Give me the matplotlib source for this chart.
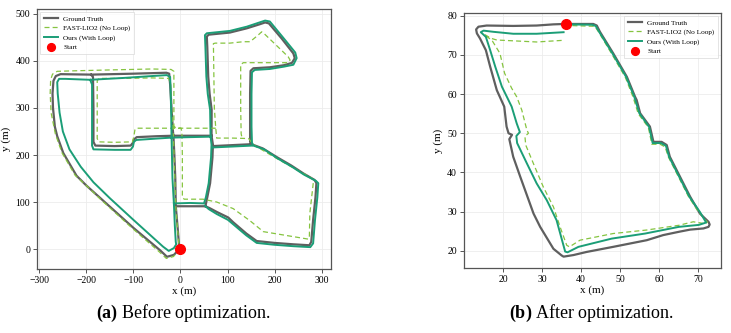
import numpy as np
import matplotlib
matplotlib.use("Agg")
import matplotlib.pyplot as plt

plt.rcParams['font.family'] = ['Liberation Serif', 'DejaVu Serif']
plt.rcParams['mathtext.fontset'] = 'custom'
plt.rcParams['mathtext.rm'] = 'Liberation Serif'
plt.rcParams['mathtext.bf'] = 'Liberation Serif:bold'

nan = np.nan

# ---------------- Panel (a): before optimization ----------------
gt_a_x = [0, -4.7, -14, -28.7, -43, -100, -170, -200, -221, -249, -262, -267, -271, -272, -270, -265, -255, -190, -100, -30, -24, -22, -19, -16, -15, -13, -11, -10, -6, -2.5, 0,
          nan,
          -190, -186, -185, -185, -181, -140, -106, -101, -99, -93, -50, -15, 20, 66, 66.3, 62, 59, 57, 56, 60, 105, 141, 168, 180, 188, 215, 240, 243, 237, 220, 190, 155, 149, 148, 148, 148, 151,
          175, 204, 235, 261, 285, 289, 287, 282, 278, 274, 240, 200, 162, 140, 112, 101.6, 77, 62, 53, 20, -10,
          nan,
          151, 110, 69,
          nan,
          66, 69, 68, 63, 57, 53]
gt_a_y = [0, -2.5, -12.5, -16.5, -3, 45, 108, 135, 156, 204, 240, 260, 300, 331, 358, 368, 372, 371, 373, 375, 373, 350, 300, 250, 241, 200, 150, 91, 45, 1.5, 0,
          nan,
          371, 366, 300, 228, 220, 219, 220, 226, 233, 238, 240, 241, 241, 241, 296, 330, 367, 430, 452, 456, 460.5, 469.5, 478, 482, 480, 448, 416, 406, 396, 391, 386.6, 384.5, 379, 330, 260, 228, 223,
          214, 196, 178, 161, 147, 140, 110, 62, 15, 8, 10, 13, 17, 33, 57, 67, 79, 87, 91, 91, 91,
          nan,
          223, 221, 219,
          nan,
          241, 222, 195, 140, 110, 91]

lio_a_x = [0, -5, -15, -30, -45, -100, -168, -200, -224, -252, -266, -275, -277, -276, -272, -262, -230, -150, -60, -20, -14, -14, -14, -10, 1, 3, 4, 4, 4, 8, 48,
           77, 112, 148, 176, 272, 274, 275, 280, 283, 277, 250, 211, 180, 155, 145, 110, 77, 75, 72, 70, 74, 105, 133.5, 148, 165, 172.6, 176, 200, 229, 233, 228, 133.5, 128, 128, 129, 131,
           nan,
           75, 30, -1, -50, -94, -97, -99, -102, -140, -174, -177, -177, -177, -173, -120, -60, -25, -21, -19, -15, -10, -3, 0]
lio_a_y = [0, -5, -16, -20, -6, 42, 104, 135, 157, 205, 245, 290, 331, 360, 372, 378, 379, 381, 383, 382, 378, 300, 262, 257, 257, 250, 200, 150, 110, 106, 106,
           100, 86, 60, 37, 21, 25, 76, 120, 147, 152, 167, 189, 207, 222, 235, 236, 236, 257, 300, 437, 438, 438, 441, 441, 455, 462, 460, 437, 409, 402, 396.4, 396.4, 392, 300, 245, 236,
           nan,
           257, 257, 257, 257, 257, 253, 240, 228, 227, 228, 235, 300, 358, 363, 363, 364, 363, 350, 300, 241, 91, 3, 0]

ours_a_x = [-14, -12, -10, -9, -14, -25, -37, -100, -150, -185, -212, -236, -250, -257, -261, -262, -258, -245, -192, -120, -60, -29, -22, -21, -20, -19, -17, -14,
            nan,
            -192, -188, -188, -188, -185, -140, -106, -101, -99, -94, -50, -19, 20, 64, 63, 58, 55, 53, 52, 56, 105, 141, 168, 180, 190, 218, 244, 247, 240, 220, 190, 158, 152, 151, 151, 152,
            155, 178, 206, 237, 263, 288, 293, 291, 286, 282, 276, 240, 200, 162, 140, 126.5, 101, 77, 60, 52,
            nan,
            152, 110, 67,
            nan,
            64, 66, 65, 60, 54, 50, 20, -12]
ours_a_y = [97, 50, 15, 10, 2, -4, 5, 62, 108, 142, 175, 212, 250, 290, 331, 355, 362, 362, 360, 364, 368, 370, 366, 340, 300, 241, 150, 97,
            nan,
            360, 350, 300, 220, 212, 211, 211, 218, 228, 232, 235, 237, 238, 239, 296, 330, 367, 430, 455, 459, 464, 473, 482, 486, 484, 450, 418, 406, 392, 388, 383, 381, 376, 330, 260, 226,
            220, 212, 193, 175, 158, 145, 140, 110, 62, 12, 4, 6, 9, 13, 29, 40.4, 62, 74.5, 85, 92,
            nan,
            220, 218, 216,
            nan,
            239, 222, 195, 140, 110, 97, 98, 97]

start_a = (0, 0)

# ---------------- Panel (b): after optimization ----------------
gt_b_x = [35.7, 43.1, 44, 44.8, 48.2, 51.7, 53.8, 54.2, 55.1, 57.6, 58.5, 60.6, 61.9, 62.7, 65.3, 67.9, 70.4, 72.6, 72.9, 72.6, 71.3, 67.9, 65.3, 61, 56.8, 48.2, 41.4, 38, 35.5, 35,
          32.9, 29.5, 27.8, 24.4, 22.6, 21.6, 22.3, 21.4, 20.9, 20.3, 18.4, 16.7, 15.6, 14.1, 13.3, 13.1, 13.7, 15.8, 22.6, 28.6, 32.9, 35.7]
gt_b_y = [77.9, 77.9, 77.5, 75.9, 70.4, 64.4, 59.3, 58.5, 55.1, 51.7, 47.8, 47.8, 47, 44, 38.9, 33.8, 29.5, 27.4, 26.7, 26.1, 25.7, 25.4, 24.9, 24, 22.7, 21, 19.7, 18.9, 18.5, 18.8,
          20.5, 26.1, 29.5, 38.9, 44, 48.5, 49.6, 50, 51.7, 56.8, 61, 67, 71.2, 74.2, 75.5, 76.5, 77.2, 77.5, 77.4, 77.5, 77.8, 77.9]

lio_b_x = [35, 28.6, 22.6, 18.4, 16.7, 15.2, 17.3, 19.2, 20.4, 22.2, 23.5, 24.8, 26.1, 26.5, 25.6, 25.8, 27.8, 30.3, 32.9, 34.6, 36.3, 37, 39.7, 48.2, 56.8, 65, 68.7, 71.8, 72.3,
           70, 67.5, 64.9, 62.3, 61.5, 60.2, 58.1, 57.2, 54.6, 53.3, 51.3, 47.8, 44.5, 43.5, 37]
lio_b_y = [73.7, 73.3, 73.6, 73.8, 74.3, 75.3, 73.5, 70.4, 65.3, 61.5, 59.3, 55.9, 50.8, 50, 49.2, 47, 42.2, 36.3, 31.2, 26.1, 21.4, 21, 22.7, 24.4, 25.3, 26.5, 27.4, 26.9, 27.3,
           30, 33.8, 38.9, 44, 46.5, 47.2, 47.2, 51.5, 55, 59.2, 64.3, 70.3, 75.8, 77.3, 77.5]

ours_b_x = [35.5, 28.6, 22.6, 17.5, 15, 14.3, 15.6, 16.7, 18, 19.7, 22.2, 23.5, 24.3, 23.4, 23.6, 26.1, 28.6, 31.2, 33.7, 35.9, 36.5, 39.3, 47.8, 56.4, 65, 70.1, 72,
            70.4, 67.7, 65.1, 62.5, 61.7, 60.4, 58.3, 57.4, 54.9, 53.6, 51.5, 48, 44.6, 43.7, 42.8, 37]
ours_b_y = [75.8, 75.4, 75.4, 75.9, 76.2, 75.8, 74.6, 71.2, 67, 61.9, 56.8, 52.5, 50.3, 49.3, 47.5, 42.3, 37.2, 32.9, 27.8, 19.8, 19.6, 21, 23.1, 24.4, 26.1, 26.6, 27.2,
            29.9, 33.8, 38.9, 44, 46.8, 47.5, 47.5, 51.6, 55.1, 59.3, 64.4, 70.4, 75.9, 77.4, 77.7, 77.8]

start_b = (36, 78)

labels = ["Ground Truth", "FAST-LIO2 (No Loop)", "Ours (With Loop)", "Start"]
captions = [r"$\mathbf{(a)}$ Before optimization.", r"$\mathbf{(b)}$ After optimization."]

GT_C = '#5f5f5f'
LIO_C = '#86c440'
OURS_C = '#1b9e77'

fig = plt.figure(figsize=(7.31, 3.33), dpi=100)
ax1 = fig.add_axes([37/731, (333-269)/333, 294/731, 260/333])
ax2 = fig.add_axes([464/731, (333-268)/333, 257/731, 255/333])


def draw(ax, gx, gy, lx, ly, ox, oy, st, loc):
    ax.plot(gx, gy, color=GT_C, lw=1.6, label=labels[0], zorder=2, solid_joinstyle='round')
    ax.plot(lx, ly, color=LIO_C, lw=0.9, ls=(0, (4, 2.5)), label=labels[1], zorder=3)
    ax.plot(ox, oy, color=OURS_C, lw=1.4, label=labels[2], zorder=4, solid_joinstyle='round')
    ax.plot([st[0]], [st[1]], 'o', color='red', ms=7, ls='none', label=labels[3], zorder=6)
    ax.grid(True, color='#ececec', lw=0.6)
    ax.set_axisbelow(True)
    for s in ax.spines.values():
        s.set_color('#555555')
        s.set_linewidth(0.9)
    ax.tick_params(labelsize=7, length=3, width=0.7, color='#555555', pad=2)
    ax.set_xlabel("x (m)", fontsize=8, labelpad=1)
    ax.set_ylabel("y (m)", fontsize=8, labelpad=3)
    leg = ax.legend(loc=loc, fontsize=5.2, frameon=True, handlelength=2.0,
                    borderpad=0.5, labelspacing=0.45, handletextpad=0.7, fancybox=False,
                    borderaxespad=0.4, markerscale=0.8)
    leg.get_frame().set_edgecolor('#d8d8d8')
    leg.get_frame().set_linewidth(0.6)


draw(ax1, gt_a_x, gt_a_y, lio_a_x, lio_a_y, ours_a_x, ours_a_y, start_a, 'upper left')
ax1.set_xlim(-305, 320)
ax1.set_ylim(-42.5, 510.6)
ax1.set_xticks([-300, -200, -100, 0, 100, 200, 300])
ax1.set_yticks([0, 100, 200, 300, 400, 500])

draw(ax2, gt_b_x, gt_b_y, lio_b_x, lio_b_y, ours_b_x, ours_b_y, start_b, 'upper right')
ax2.set_xlim(10.0, 75.8)
ax2.set_ylim(15.6, 80.7)
ax2.set_xticks([20, 30, 40, 50, 60, 70])
ax2.set_yticks([20, 30, 40, 50, 60, 70, 80])

fig.text(184/731, 20/333, captions[0], ha='center', va='center', fontsize=13)
fig.text(592/731, 20/333, captions[1], ha='center', va='center', fontsize=13)

fig.savefig("out.png", dpi=100)
